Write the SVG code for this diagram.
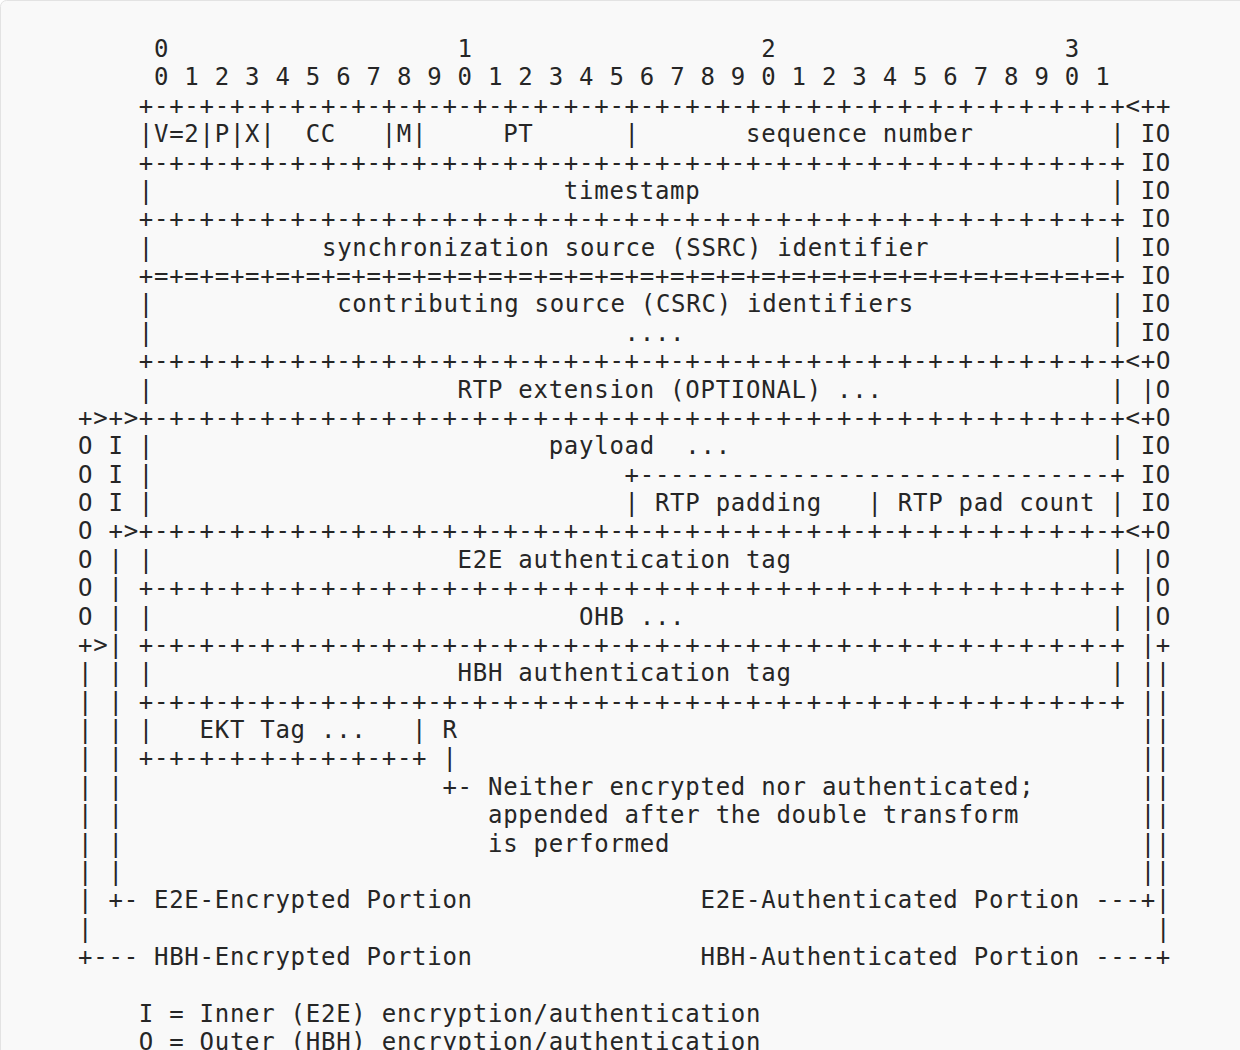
<svg xmlns="http://www.w3.org/2000/svg" width="1240" height="1050" viewBox="0 0 1240 1050" xml:space="preserve">
<style>
text{font-family:"DejaVu Sans Mono","Liberation Mono",monospace;font-size:24px;letter-spacing:0.731px;fill:#262626;white-space:pre}
</style>
<rect x="0.5" y="0.5" width="1250" height="1070" rx="6" fill="#f9f9f9" stroke="#e3e3e3"/>
<g id="bit-ruler">
<text x="154" y="57">0</text>
<text x="457.6" y="57">1</text>
<text x="761.2" y="57">2</text>
<text x="1064.8" y="57">3</text>
<text x="154" y="85.38">0 1 2 3 4 5 6 7 8 9 0 1 2 3 4 5 6 7 8 9 0 1 2 3 4 5 6 7 8 9 0 1</text>
</g>
<g id="rtp-header">
<text x="138.82" y="113.75">+-+-+-+-+-+-+-+-+-+-+-+-+-+-+-+-+-+-+-+-+-+-+-+-+-+-+-+-+-+-+-+-+</text>
<text x="138.82" y="142.13">|</text>
<text x="154" y="142.13">V=2|P|X|</text>
<text x="305.7" y="142.13">CC</text>
<text x="381.7" y="142.13">|M|</text>
<text x="503.14" y="142.13">PT</text>
<text x="624.58" y="142.13">|</text>
<text x="746.02" y="142.13">sequence number</text>
<text x="1110.34" y="142.13">|</text>
<text x="138.82" y="170.5">+-+-+-+-+-+-+-+-+-+-+-+-+-+-+-+-+-+-+-+-+-+-+-+-+-+-+-+-+-+-+-+-+</text>
<text x="138.82" y="198.88">|</text>
<text x="563.86" y="198.88">timestamp</text>
<text x="1110.34" y="198.88">|</text>
<text x="138.82" y="227.25">+-+-+-+-+-+-+-+-+-+-+-+-+-+-+-+-+-+-+-+-+-+-+-+-+-+-+-+-+-+-+-+-+</text>
<text x="138.82" y="255.63">|</text>
<text x="321.98" y="255.63">synchronization source (SSRC) identifier</text>
<text x="1110.34" y="255.63">|</text>
<text x="138.82" y="284">+=+=+=+=+=+=+=+=+=+=+=+=+=+=+=+=+=+=+=+=+=+=+=+=+=+=+=+=+=+=+=+=+</text>
<text x="138.82" y="312.38">|</text>
<text x="337.16" y="312.38">contributing source (CSRC) identifiers</text>
<text x="1110.34" y="312.38">|</text>
<text x="138.82" y="340.75">|</text>
<text x="624.58" y="340.75">....</text>
<text x="1110.34" y="340.75">|</text>
<text x="138.82" y="369.13">+-+-+-+-+-+-+-+-+-+-+-+-+-+-+-+-+-+-+-+-+-+-+-+-+-+-+-+-+-+-+-+-+</text>
</g>
<g id="rtp-extension">
<text x="138.82" y="397.5">|</text>
<text x="457.6" y="397.5">RTP extension (OPTIONAL) ...</text>
<text x="1110.34" y="397.5">|</text>
<text x="138.82" y="425.88">+-+-+-+-+-+-+-+-+-+-+-+-+-+-+-+-+-+-+-+-+-+-+-+-+-+-+-+-+-+-+-+-+</text>
</g>
<g id="payload">
<text x="138.82" y="454.25">|</text>
<text x="548.68" y="454.25">payload  ...</text>
<text x="1110.34" y="454.25">|</text>
<text x="138.82" y="482.63">|</text>
<text x="624.58" y="482.63">+-------------------------------+</text>
<text x="138.82" y="511">|</text>
<text x="624.58" y="511">| RTP padding   | RTP pad count |</text>
<text x="138.82" y="539.38">+-+-+-+-+-+-+-+-+-+-+-+-+-+-+-+-+-+-+-+-+-+-+-+-+-+-+-+-+-+-+-+-+</text>
</g>
<g id="e2e-tag">
<text x="138.82" y="567.75">|</text>
<text x="457.6" y="567.75">E2E authentication tag</text>
<text x="1110.34" y="567.75">|</text>
<text x="138.82" y="596.13">+-+-+-+-+-+-+-+-+-+-+-+-+-+-+-+-+-+-+-+-+-+-+-+-+-+-+-+-+-+-+-+-+</text>
</g>
<g id="ohb">
<text x="138.82" y="624.5">|</text>
<text x="579.04" y="624.5">OHB ...</text>
<text x="1110.34" y="624.5">|</text>
<text x="138.82" y="652.88">+-+-+-+-+-+-+-+-+-+-+-+-+-+-+-+-+-+-+-+-+-+-+-+-+-+-+-+-+-+-+-+-+</text>
</g>
<g id="hbh-tag">
<text x="138.82" y="681.25">|</text>
<text x="457.6" y="681.25">HBH authentication tag</text>
<text x="1110.34" y="681.25">|</text>
<text x="138.82" y="709.63">+-+-+-+-+-+-+-+-+-+-+-+-+-+-+-+-+-+-+-+-+-+-+-+-+-+-+-+-+-+-+-+-+</text>
</g>
<g id="ekt-tag">
<text x="138.82" y="738">|</text>
<text x="199.54" y="738">EKT Tag ...</text>
<text x="412.06" y="738">|</text>
<text x="442.42" y="738">R</text>
<text x="138.82" y="766.38">+-+-+-+-+-+-+-+-+-+</text>
<text x="442.42" y="766.38">|</text>
<text x="442.42" y="794.75">+- Neither encrypted nor authenticated;</text>
<text x="487.96" y="823.13">appended after the double transform</text>
<text x="487.96" y="851.5">is performed</text>
</g>
<g id="connectors">
<text x="1125.52" y="113.75">&lt;++</text>
<text x="1140.7" y="142.13">IO</text>
<text x="1140.7" y="170.5">IO</text>
<text x="1140.7" y="198.88">IO</text>
<text x="1140.7" y="227.25">IO</text>
<text x="1140.7" y="255.63">IO</text>
<text x="1140.7" y="284">IO</text>
<text x="1140.7" y="312.38">IO</text>
<text x="1140.7" y="340.75">IO</text>
<text x="1125.52" y="369.13">&lt;+O</text>
<text x="1140.7" y="397.5">|O</text>
<text x="1125.52" y="425.88">&lt;+O</text>
<text x="1140.7" y="454.25">IO</text>
<text x="1140.7" y="482.63">IO</text>
<text x="1140.7" y="511">IO</text>
<text x="1125.52" y="539.38">&lt;+O</text>
<text x="1140.7" y="567.75">|O</text>
<text x="1140.7" y="596.13">|O</text>
<text x="1140.7" y="624.5">|O</text>
<text x="1140.7" y="652.88">|+</text>
<text x="1140.7" y="681.25">||</text>
<text x="1140.7" y="709.63">||</text>
<text x="1140.7" y="738">||</text>
<text x="1140.7" y="766.38">||</text>
<text x="1140.7" y="794.75">||</text>
<text x="1140.7" y="823.13">||</text>
<text x="1140.7" y="851.5">||</text>
<text x="1140.7" y="879.88">||</text>
<text x="700.48" y="908.25">E2E-Authenticated Portion ---+|</text>
<text x="1155.88" y="936.63">|</text>
<text x="700.48" y="965">HBH-Authenticated Portion ----+</text>
<text x="78.1" y="425.88">+&gt;+&gt;</text>
<text x="78.1" y="454.25">O I</text>
<text x="78.1" y="482.63">O I</text>
<text x="78.1" y="511">O I</text>
<text x="78.1" y="539.38">O +&gt;</text>
<text x="78.1" y="567.75">O |</text>
<text x="78.1" y="596.13">O |</text>
<text x="78.1" y="624.5">O |</text>
<text x="78.1" y="652.88">+&gt;|</text>
<text x="78.1" y="681.25">| |</text>
<text x="78.1" y="709.63">| |</text>
<text x="78.1" y="738">| |</text>
<text x="78.1" y="766.38">| |</text>
<text x="78.1" y="794.75">| |</text>
<text x="78.1" y="823.13">| |</text>
<text x="78.1" y="851.5">| |</text>
<text x="78.1" y="879.88">| |</text>
<text x="78.1" y="908.25">| +- E2E-Encrypted Portion</text>
<text x="78.1" y="936.63">|</text>
<text x="78.1" y="965">+--- HBH-Encrypted Portion</text>
</g>
<g id="legend">
<text x="138.82" y="1021.75">I = Inner (E2E) encryption/authentication</text>
<text x="138.82" y="1050.13">O = Outer (HBH) encryption/authentication</text>
</g>
</svg>
